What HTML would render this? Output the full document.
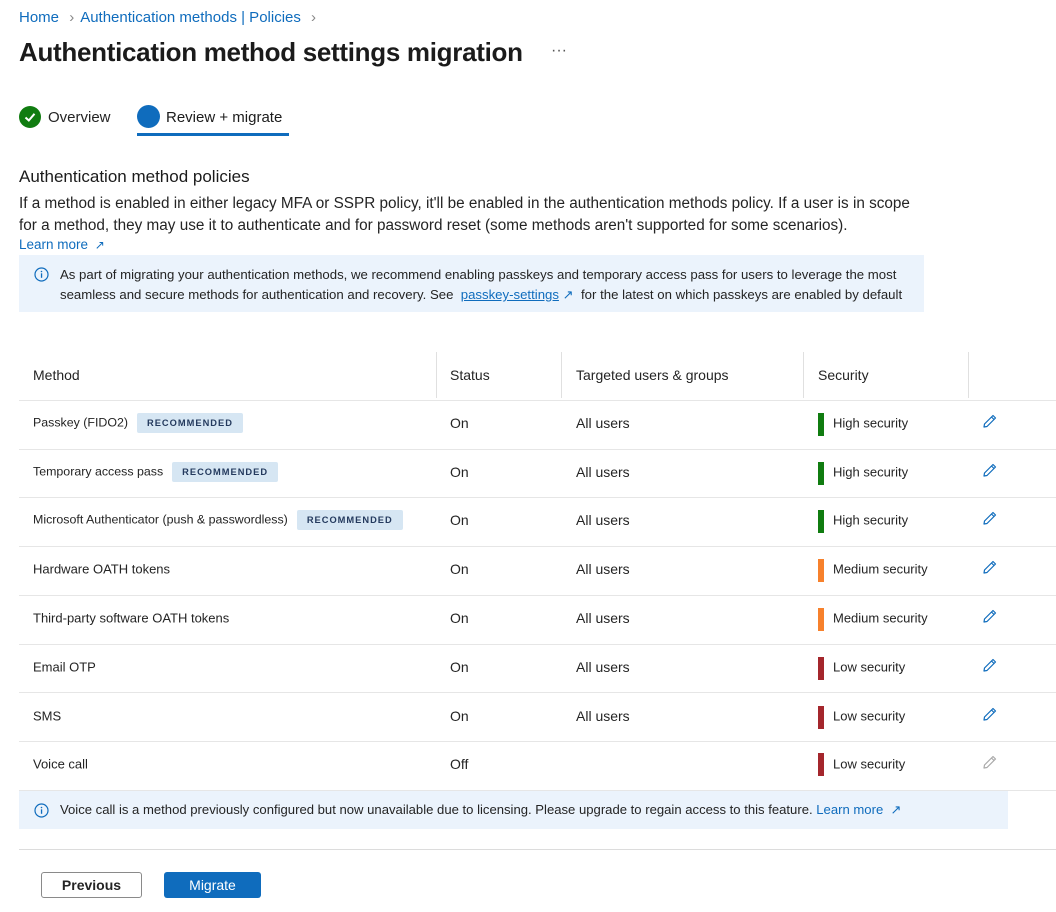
<!DOCTYPE html>
<html><head><meta charset="utf-8"><style>
*{margin:0;padding:0;box-sizing:border-box}
body{width:1056px;height:912px;background:#fff;font-family:"Liberation Sans",sans-serif;color:#242424;position:relative;overflow:hidden}
.a{position:absolute;white-space:nowrap}
.link{color:#0f6cbd}
.hl{position:absolute;left:19px;right:0;height:1px;background:#e6e6e6}
.vl{position:absolute;top:352px;height:46px;width:1px;background:#e0e0e0}
.t{position:absolute;font-size:13px;white-space:nowrap;transform:translateY(-50%)}
.m{font-size:12.4px}
.badge{display:inline-block;background:#d6e6f3;color:#243a5e;font-size:9.3px;font-weight:bold;letter-spacing:1px;padding:5px 10px;border-radius:2px;margin-left:9px;vertical-align:middle}
.bar{position:absolute;left:818px;width:6px;height:23px}
.pen{position:absolute;left:982px;width:16px;height:16px}
</style></head><body>
<div class="a" style="left:19px;top:9px;font-size:15px"><span class="link">Home</span> <span style="color:#888;margin:0 6px">&#x203A;</span><span class="link">Authentication methods | Policies</span> <span style="color:#888;margin-left:6px">&#x203A;</span></div>
<div class="a" style="left:19px;top:37px;font-size:26px;font-weight:bold;letter-spacing:-0.3px;color:#1b1b1b">Authentication method settings migration</div>
<div class="a" style="left:551px;top:42px;font-size:16px;color:#555">···</div>

<div class="a" style="left:19px;top:106px;width:22px;height:22px;border-radius:50%;background:#107c10"></div>
<svg class="a" style="left:23px;top:110px" width="14" height="14" viewBox="0 0 14 14"><path d="M2.5 7.5 L5.8 10.5 L11.5 3.8" stroke="#fff" stroke-width="2" fill="none"/></svg>
<div class="a" style="left:48px;top:109px;font-size:15px">Overview</div>
<div class="a" style="left:137px;top:105px;width:23px;height:23px;border-radius:50%;background:#0f6cbd"></div>
<div class="a" style="left:166px;top:109px;font-size:15px;color:#1b1b1b">Review + migrate</div>
<div class="a" style="left:137px;top:133px;width:152px;height:3px;background:#0f6cbd"></div>

<div class="a" style="left:19px;top:167px;font-size:17px;color:#1b1b1b">Authentication method policies</div>
<div class="a" style="left:19px;top:193px;font-size:15.3px;line-height:22px">If a method is enabled in either legacy MFA or SSPR policy, it'll be enabled in the authentication methods policy. If a user is in scope<br>for a method, they may use it to authenticate and for password reset (some methods aren't supported for some scenarios).</div>
<div class="a link" style="left:19px;top:237px;font-size:13.5px">Learn more <span style="font-size:12px;margin-left:3px">&#x2197;</span></div>

<div class="a" style="left:19px;top:255px;width:905px;height:57px;background:#ebf3fc"></div>
<svg class="a" style="left:34px;top:267px" width="15" height="15" viewBox="0 0 15 15"><circle cx="7.5" cy="7.5" r="6.5" fill="none" stroke="#0f6cbd" stroke-width="1.2"/><rect x="6.9" y="6.3" width="1.3" height="4.5" fill="#0f6cbd"/><circle cx="7.5" cy="4.5" r="0.8" fill="#0f6cbd"/></svg>
<div class="a" style="left:60px;top:265px;font-size:13.2px;line-height:20px">As part of migrating your authentication methods, we recommend enabling passkeys and temporary access pass for users to leverage the most<br>seamless and secure methods for authentication and recovery. See &nbsp;<span class="link" style="text-decoration:underline">passkey-settings</span> <span class="link">&#x2197;</span>&nbsp; for the latest on which passkeys are enabled by default</div>

<div class="vl" style="left:436px"></div><div class="vl" style="left:561px"></div><div class="vl" style="left:803px"></div><div class="vl" style="left:968px"></div>
<div class="t" style="left:33px;top:375px;font-size:14px">Method</div>
<div class="t" style="left:450px;top:375px;font-size:14px">Status</div>
<div class="t" style="left:576px;top:375px;font-size:14px">Targeted users &amp; groups</div>
<div class="t" style="left:818px;top:375px;font-size:14px">Security</div>
<div class="hl" style="top:400px"></div><div class="hl" style="top:449px"></div><div class="hl" style="top:497px"></div><div class="hl" style="top:546px"></div><div class="hl" style="top:595px"></div><div class="hl" style="top:644px"></div><div class="hl" style="top:692px"></div><div class="hl" style="top:741px"></div><div class="hl" style="top:790px"></div>

<div class="t" style="left:33px;top:423px"><span class="m">Passkey (FIDO2)</span><span class="badge">RECOMMENDED</span></div>
<div class="t" style="left:33px;top:472px"><span class="m">Temporary access pass</span><span class="badge">RECOMMENDED</span></div>
<div class="t" style="left:33px;top:520px"><span class="m">Microsoft Authenticator (push &amp; passwordless)</span><span class="badge">RECOMMENDED</span></div>
<div class="t" style="left:33px;top:569px">Hardware OATH tokens</div>
<div class="t" style="left:33px;top:618px">Third-party software OATH tokens</div>
<div class="t" style="left:33px;top:667px">Email OTP</div>
<div class="t" style="left:33px;top:716px">SMS</div>
<div class="t" style="left:33px;top:764px">Voice call</div>

<div class="t" style="left:450px;top:423px;font-size:14px">On</div><div class="t" style="left:450px;top:472px;font-size:14px">On</div><div class="t" style="left:450px;top:520px;font-size:14px">On</div><div class="t" style="left:450px;top:569px;font-size:14px">On</div><div class="t" style="left:450px;top:618px;font-size:14px">On</div><div class="t" style="left:450px;top:667px;font-size:14px">On</div><div class="t" style="left:450px;top:716px;font-size:14px">On</div><div class="t" style="left:450px;top:764px;font-size:14px">Off</div>
<div class="t" style="left:576px;top:423px;font-size:14px">All users</div><div class="t" style="left:576px;top:472px;font-size:14px">All users</div><div class="t" style="left:576px;top:520px;font-size:14px">All users</div><div class="t" style="left:576px;top:569px;font-size:14px">All users</div><div class="t" style="left:576px;top:618px;font-size:14px">All users</div><div class="t" style="left:576px;top:667px;font-size:14px">All users</div><div class="t" style="left:576px;top:716px;font-size:14px">All users</div>

<div class="bar" style="top:413px;background:#107c10"></div><div class="t" style="left:833px;top:423px">High security</div>
<div class="bar" style="top:462px;background:#107c10"></div><div class="t" style="left:833px;top:472px">High security</div>
<div class="bar" style="top:510px;background:#107c10"></div><div class="t" style="left:833px;top:520px">High security</div>
<div class="bar" style="top:559px;background:#f7812c"></div><div class="t" style="left:833px;top:569px">Medium security</div>
<div class="bar" style="top:608px;background:#f7812c"></div><div class="t" style="left:833px;top:618px">Medium security</div>
<div class="bar" style="top:657px;background:#a4262c"></div><div class="t" style="left:833px;top:667px">Low security</div>
<div class="bar" style="top:706px;background:#a4262c"></div><div class="t" style="left:833px;top:716px">Low security</div>
<div class="bar" style="top:753px;background:#a4262c"></div><div class="t" style="left:833px;top:764px">Low security</div>

<svg width="0" height="0" style="position:absolute"><defs><symbol id="p" viewBox="0 0 16 16"><path d="M11 2.5 L13.5 5 L5 13.5 L2 14 L2.5 11 Z M9.5 4 L12 6.5" fill="none" stroke-width="1.2" stroke-linejoin="round"/></symbol></defs></svg>
<svg class="pen" style="top:413px;stroke:#0f6cbd"><use href="#p"/></svg>
<svg class="pen" style="top:462px;stroke:#0f6cbd"><use href="#p"/></svg>
<svg class="pen" style="top:510px;stroke:#0f6cbd"><use href="#p"/></svg>
<svg class="pen" style="top:559px;stroke:#0f6cbd"><use href="#p"/></svg>
<svg class="pen" style="top:608px;stroke:#0f6cbd"><use href="#p"/></svg>
<svg class="pen" style="top:657px;stroke:#0f6cbd"><use href="#p"/></svg>
<svg class="pen" style="top:706px;stroke:#0f6cbd"><use href="#p"/></svg>
<svg class="pen" style="top:754px;stroke:#aaa"><use href="#p"/></svg>

<div class="a" style="left:19px;top:791px;width:989px;height:38px;background:#ebf3fc"></div>
<svg class="a" style="left:34px;top:803px" width="15" height="15" viewBox="0 0 15 15"><circle cx="7.5" cy="7.5" r="6.5" fill="none" stroke="#0f6cbd" stroke-width="1.2"/><rect x="6.9" y="6.3" width="1.3" height="4.5" fill="#0f6cbd"/><circle cx="7.5" cy="4.5" r="0.8" fill="#0f6cbd"/></svg>
<div class="a" style="left:60px;top:802px;font-size:13.1px">Voice call is a method previously configured but now unavailable due to licensing. Please upgrade to regain access to this feature. <span class="link">Learn more &nbsp;&#x2197;</span></div>

<div class="hl" style="top:849px;background:#dcdcdc"></div>
<div class="a" style="left:41px;top:872px;width:101px;height:26px;border:1px solid #8a8a8a;border-radius:3px;font-size:14px;font-weight:bold;text-align:center;line-height:24px">Previous</div>
<div class="a" style="left:164px;top:872px;width:97px;height:26px;background:#0f6cbd;border-radius:3px;font-size:14px;color:#fff;text-align:center;line-height:26px">Migrate</div>
</body></html>
